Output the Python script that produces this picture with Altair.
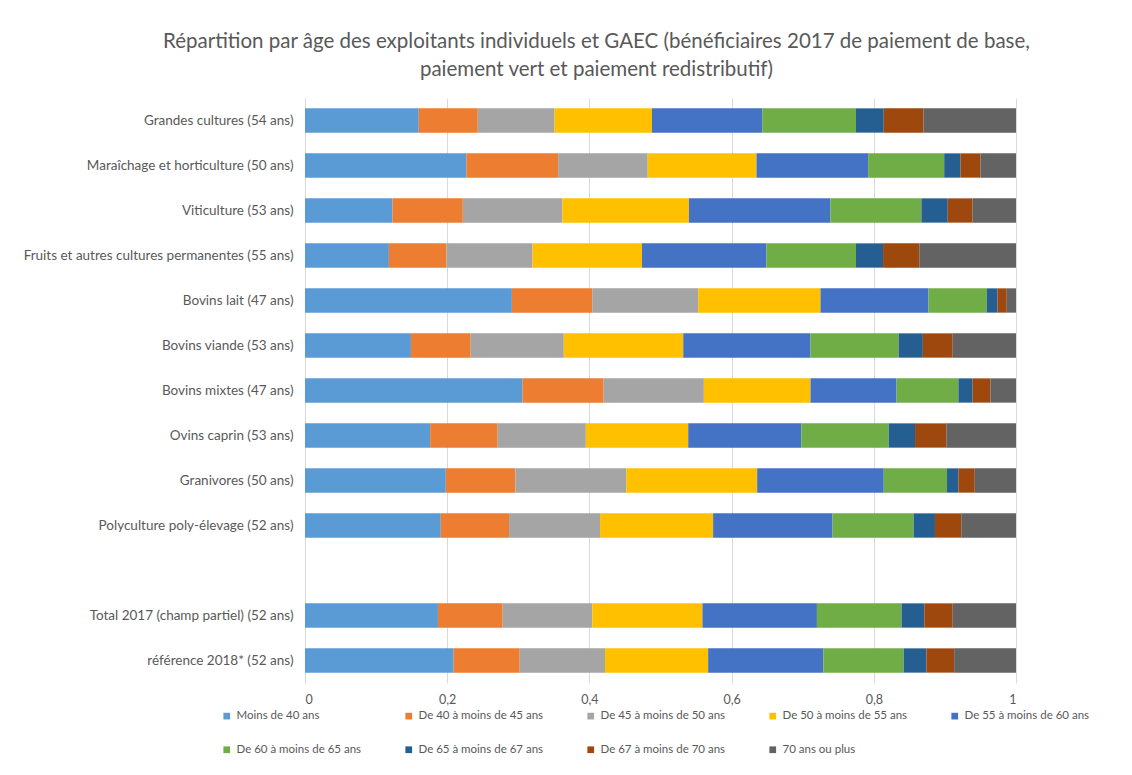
import altair as alt
import pandas as pd

categories = [
    "Grandes cultures (54 ans)",
    "Maraîchage et horticulture (50 ans)",
    "Viticulture (53 ans)",
    "Fruits et autres cultures permanentes (55 ans)",
    "Bovins lait (47 ans)",
    "Bovins viande (53 ans)",
    "Bovins mixtes (47 ans)",
    "Ovins caprin (53 ans)",
    "Granivores (50 ans)",
    "Polyculture poly-élevage (52 ans)",
    "Total 2017 (champ partiel) (52 ans)",
    "référence 2018* (52 ans)",
]
axis_order = categories[:10] + [" "] + categories[10:]

age_groups = [
    "Moins de 40 ans",
    "De 40 à moins de 45 ans",
    "De 45 à moins de 50 ans",
    "De 50 à moins de 55 ans",
    "De 55 à moins de 60 ans",
    "De 60 à moins de 65 ans",
    "De 65 à moins de 67 ans",
    "De 67 à moins de 70 ans",
    "70 ans ou plus",
]
colors = ["#5B9BD5", "#ED7D31", "#A5A5A5", "#FFC000", "#4472C4",
          "#70AD47", "#255E91", "#9E480E", "#636363"]

moins_40 = [0.160, 0.227, 0.123, 0.118, 0.291, 0.149, 0.306, 0.176, 0.198, 0.191, 0.187, 0.209]
de_40_45 = [0.083, 0.129, 0.099, 0.081, 0.113, 0.084, 0.114, 0.095, 0.098, 0.096, 0.091, 0.093]
de_45_50 = [0.108, 0.126, 0.140, 0.121, 0.149, 0.131, 0.141, 0.124, 0.156, 0.128, 0.126, 0.120]
de_50_55 = [0.137, 0.153, 0.178, 0.154, 0.172, 0.168, 0.150, 0.144, 0.184, 0.159, 0.155, 0.145]
de_55_60 = [0.155, 0.157, 0.199, 0.175, 0.152, 0.179, 0.121, 0.159, 0.178, 0.168, 0.161, 0.162]
de_60_65 = [0.132, 0.107, 0.128, 0.126, 0.082, 0.124, 0.087, 0.123, 0.089, 0.114, 0.119, 0.113]
de_65_67 = [0.039, 0.023, 0.037, 0.038, 0.015, 0.034, 0.020, 0.037, 0.016, 0.030, 0.032, 0.032]
de_67_70 = [0.056, 0.028, 0.035, 0.051, 0.013, 0.042, 0.025, 0.044, 0.023, 0.037, 0.040, 0.039]
plus_70 = [0.130, 0.050, 0.061, 0.136, 0.013, 0.089, 0.036, 0.098, 0.058, 0.077, 0.089, 0.087]

series = [moins_40, de_40_45, de_45_50, de_50_55, de_55_60,
          de_60_65, de_65_67, de_67_70, plus_70]

rows = []
for gi, (grp, vals) in enumerate(zip(age_groups, series)):
    for cat, v in zip(categories, vals):
        rows.append({"categorie": cat, "groupe": grp, "valeur": v, "rang": gi})
df = pd.DataFrame(rows)

FONT = "Lato, Liberation Sans, sans-serif"
TXT = "#595959"

chart = alt.Chart(df).mark_bar().encode(
    y=alt.Y(
        "categorie:N",
        sort=axis_order,
        scale=alt.Scale(domain=axis_order, paddingInner=0.46, paddingOuter=0.23),
        axis=alt.Axis(title=None, ticks=False, domain=True, domainColor="#d9d9d9",
                      labelFontSize=13.5, labelColor=TXT, labelFont=FONT,
                      labelPadding=12, labelLimit=400),
    ),
    x=alt.X(
        "valeur:Q",
        stack="zero",
        scale=alt.Scale(domain=[0, 1], nice=False),
        axis=alt.Axis(title=None, values=[0, 0.2, 0.4, 0.6, 0.8, 1],
                      labelExpr="replace(toString(datum.value), '.', ',')",
                      grid=True, gridColor="#d9d9d9", domain=False, ticks=False,
                      labelFontSize=12.5, labelColor=TXT, labelFont=FONT,
                      labelPadding=10),
    ),
    color=alt.Color(
        "groupe:N",
        scale=alt.Scale(domain=age_groups, range=colors),
        legend=alt.Legend(
            title=None, orient="none", legendX=-84, legendY=612,
            direction="horizontal", columns=5, gridAlign="all",
            symbolType="square", symbolSize=45, symbolStrokeWidth=0,
            labelFontSize=11.5, labelColor=TXT, labelFont=FONT,
            labelOffset=4, columnPadding=41, rowPadding=21,
        ),
    ),
    order=alt.Order("rang:Q"),
).properties(
    width=711,
    height=585,
    title=alt.TitleParams(
        ["Répartition par âge des exploitants individuels et GAEC (bénéficiaires 2017 de paiement de base,",
         "paiement vert et paiement redistributif)"],
        anchor="middle", dx=-64, fontSize=20.5, fontWeight="normal", color=TXT,
        font=FONT, lineHeight=28, offset=18,
    ),
    padding={"left": 297, "top": 90, "right": 100, "bottom": 80},
    autosize=alt.AutoSizeParams(type="none"),
).configure_view(stroke=None)

chart.save("out.html", embed_options={"renderer": "svg", "actions": False})
